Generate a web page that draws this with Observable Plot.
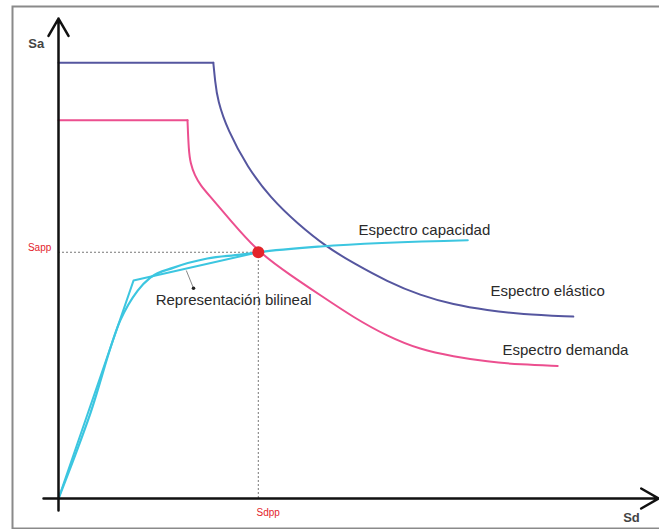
<!DOCTYPE html>
<html><head><meta charset="utf-8">
<script src="https://cdn.jsdelivr.net/npm/d3@7"></script>
<script src="https://cdn.jsdelivr.net/npm/@observablehq/plot@0.6"></script>
<style>body{margin:0;background:#fff} svg{display:block}</style>
</head><body><div id="chart"></div>
<script>
// Espectro elástico (plateau then decay)
const elasticSd = [0, 2.58, 2.61, 2.65, 2.82, 3.15, 3.53, 3.98, 4.48, 4.92, 5.48, 6.03, 6.58, 7.15, 7.70, 8.58];
const elasticSa = [9.08, 9.08, 8.70, 8.30, 7.67, 6.90, 6.27, 5.73, 5.23, 4.90, 4.52, 4.23, 4.04, 3.92, 3.84, 3.79];
// Espectro demanda
const demandSd = [0, 2.15, 2.17, 2.20, 2.27, 2.37, 2.50, 2.87, 3.33, 3.87, 4.37, 4.92, 5.48, 6.03, 6.58, 7.15, 7.70, 8.32];
const demandSa = [7.88, 7.88, 7.25, 6.98, 6.73, 6.52, 6.33, 5.79, 5.13, 4.65, 4.23, 3.77, 3.38, 3.10, 2.96, 2.85, 2.79, 2.76];
// Espectro capacidad
const capacitySd = [0, 0.53, 1.03, 1.32, 1.53, 1.92, 2.48, 3.03, 3.33, 4.37, 6.82];
const capacitySa = [0, 1.77, 3.71, 4.33, 4.60, 4.81, 5.00, 5.08, 5.13, 5.25, 5.38];
// Representación bilineal
const bilinearSd = [0, 1.25, 3.33];
const bilinearSa = [0, 4.54, 5.13];
// Punto de desempeño
const perfSd = 3.33;
const perfSa = 5.13;
// Axis extents
const axisMin = -0.25;
const axisMax = 10;
// Labels
const labelText = ["Espectro capacidad", "Espectro elástico", "Espectro demanda", "Representación bilineal"];
const labelSd = [5.0, 7.2, 7.4, 1.62];
const labelSa = [5.58, 4.31, 3.10, 4.13];
const leaderSd = [2.13, 2.25];
const leaderSa = [4.75, 4.38];

const pts = (xs, ys) => xs.map((x, i) => ({sd: x, sa: ys[i]}));
const elastic = pts(elasticSd, elasticSa);
const demand = pts(demandSd, demandSa);
const capacity = pts(capacitySd, capacitySa);
const bilinear = pts(bilinearSd, bilinearSa);
const labels = labelText.map((t, i) => ({t, sd: labelSd[i], sa: labelSa[i]}));

const cBlue = "#55569f", cPink = "#ec4f8f", cCyan = "#3cc6e0", cRed = "#e3242b";
const font = "Liberation Sans, Arial, sans-serif";

const chart = Plot.plot({
  width: 659, height: 529, margin: 0,
  style: {fontFamily: font, background: "#fff"},
  x: {domain: [0, 10], range: [58, 658], axis: null},
  y: {domain: [0, 10], range: [498, 18], axis: null},
  marks: [
    Plot.frame({insetLeft: 12, insetTop: 6, insetBottom: 1, insetRight: -3, stroke: "#8a8a8a", strokeWidth: 2}),
    // dotted guides
    Plot.ruleY([perfSa], {x1: 0, x2: perfSd, stroke: "#777", strokeWidth: 1, strokeDasharray: "2,2"}),
    Plot.ruleX([perfSd], {y1: 0, y2: perfSa, stroke: "#777", strokeWidth: 1, strokeDasharray: "2,2"}),
    // elastic
    Plot.line(elastic.slice(0, 2), {x: "sd", y: "sa", stroke: cBlue, strokeWidth: 2}),
    Plot.line(elastic.slice(1), {x: "sd", y: "sa", stroke: cBlue, strokeWidth: 2, curve: "basis"}),
    // demand
    Plot.line(demand.slice(0, 2), {x: "sd", y: "sa", stroke: cPink, strokeWidth: 2}),
    Plot.line(demand.slice(1), {x: "sd", y: "sa", stroke: cPink, strokeWidth: 2, curve: "basis"}),
    // capacity & bilinear
    Plot.line(bilinear, {x: "sd", y: "sa", stroke: cCyan, strokeWidth: 2}),
    Plot.line(capacity, {x: "sd", y: "sa", stroke: cCyan, strokeWidth: 2.2, curve: "monotone-x"}),
    // leader line
    Plot.link([0], {x1: () => leaderSd[0], y1: () => leaderSa[0], x2: () => leaderSd[1], y2: () => leaderSa[1], stroke: "#888", strokeWidth: 1}),
    Plot.dot([0], {x: () => leaderSd[1], y: () => leaderSa[1], r: 1.8, fill: "#222"}),
    // axes
    Plot.arrow([0], {x1: () => axisMin, y1: () => 0, x2: () => axisMax, y2: () => 0, stroke: "#111", strokeWidth: 2.5, headLength: 12, headAngle: 60}),
    Plot.arrow([0], {x1: () => 0, y1: () => axisMin, x2: () => 0, y2: () => axisMax, stroke: "#111", strokeWidth: 2.5, headLength: 12, headAngle: 60}),
    // performance point
    Plot.dot([0], {x: () => perfSd, y: () => perfSa, r: 6, fill: cRed}),
    // labels
    Plot.text(labels, {x: "sd", y: "sa", text: "t", textAnchor: "start", fontSize: 15, fill: "#2a2a2a"}),
    Plot.text(["Sa"], {x: () => -0.37, y: () => 9.48, text: d => d, fontSize: 13, fontWeight: "bold", fill: "#444"}),
    Plot.text(["Sd"], {x: () => 9.55, y: () => -0.4, text: d => d, fontSize: 13, fontWeight: "bold", fill: "#444"}),
    Plot.text(["Sapp"], {x: () => -0.12, y: () => 5.23, text: d => d, textAnchor: "end", fontSize: 10, fill: cRed}),
    Plot.text(["Sdpp"], {x: () => perfSd - 0.03, y: () => -0.29, text: d => d, textAnchor: "start", fontSize: 10, fill: cRed})
  ]
});
document.getElementById("chart").appendChild(chart);
</script>
</body></html>
